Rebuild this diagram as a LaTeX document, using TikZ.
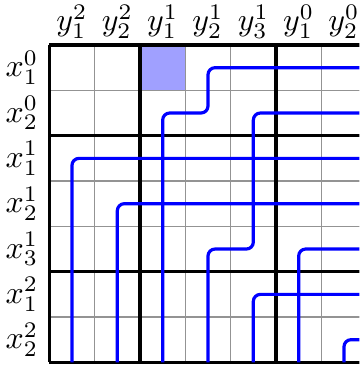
\documentclass[tikz,border=0pt]{standalone}
\begin{document}
\begin{tikzpicture}[x=0.5cm,y=-0.5cm,
  thin grid/.style={draw=gray!85,line width=0.5pt},
  group line/.style={draw=black,line width=1pt},
  route/.style={draw=blue,line width=1pt,rounded corners=2.2pt},
  collabel/.style={anchor=south,inner ysep=1.8pt,inner xsep=0pt},
  rowlabel/.style={anchor=east,inner xsep=3.3pt,inner ysep=0pt}]
\useasboundingbox (-1.088,-0.993) rectangle (6.837,7.08);
\clip (-1.088,-0.993) rectangle (6.837,7.08);
% highlighted cell
\fill[fill={rgb,255:red,160;green,160;blue,255}] (2,0) rectangle (3,1);
% thin grid
\foreach \u in {1,3,4,6,7} \draw[thin grid] (\u,0) -- (\u,7);
\foreach \v in {1,3,4,6} \draw[thin grid] (0,\v) -- (7.6,\v);
% group lines
\foreach \u in {0,2,5} \draw[group line] (\u,0) -- (\u,7);
\foreach \v in {0,2,5,7} \draw[group line] (0,\v) -- (7.6,\v);
% routes
\coordinate (s1) at (7.6,0.5); \coordinate (e1) at (2.5,7);
\coordinate (s2) at (7.6,1.5); \coordinate (e2) at (3.5,7);
\coordinate (s3) at (7.6,2.5); \coordinate (e3) at (0.5,7);
\coordinate (s4) at (7.6,3.5); \coordinate (e4) at (1.5,7);
\coordinate (s5) at (7.6,4.5); \coordinate (e5) at (5.5,7);
\coordinate (s6) at (7.6,5.5); \coordinate (e6) at (4.5,7);
\coordinate (s7) at (7.6,6.5); \coordinate (e7) at (6.5,7);
\draw[route] (s1) -- (3.5,0.5) -- (3.5,1.5) -- (2.5,1.5) -- (e1);
\draw[route] (s2) -- (4.5,1.5) -- (4.5,4.5) -- (3.5,4.5) -- (e2);
\draw[route] (s3) -- (0.5,2.5) -- (e3);
\draw[route] (s4) -- (1.5,3.5) -- (e4);
\draw[route] (s5) -- (5.5,4.5) -- (e5);
\draw[route] (s6) -- (4.5,5.5) -- (e6);
\draw[route] (s7) -- (6.5,6.5) -- (e7);
% column labels
\node[collabel] (c1) at (0.5,0) {$y_1^2$};
\node[collabel] (c2) at (1.5,0) {$y_2^2$};
\node[collabel] (c3) at (2.5,0) {$y_1^1$};
\node[collabel] (c4) at (3.5,0) {$y_2^1$};
\node[collabel] (c5) at (4.5,0) {$y_3^1$};
\node[collabel] (c6) at (5.5,0) {$y_1^0$};
\node[collabel] (c7) at (6.5,0) {$y_2^0$};
% row labels
\node[rowlabel] (r1) at (0,0.5) {$x_1^0$};
\node[rowlabel] (r2) at (0,1.5) {$x_2^0$};
\node[rowlabel] (r3) at (0,2.5) {$x_1^1$};
\node[rowlabel] (r4) at (0,3.5) {$x_2^1$};
\node[rowlabel] (r5) at (0,4.5) {$x_3^1$};
\node[rowlabel] (r6) at (0,5.5) {$x_1^2$};
\node[rowlabel] (r7) at (0,6.5) {$x_2^2$};
\end{tikzpicture}
\end{document}
